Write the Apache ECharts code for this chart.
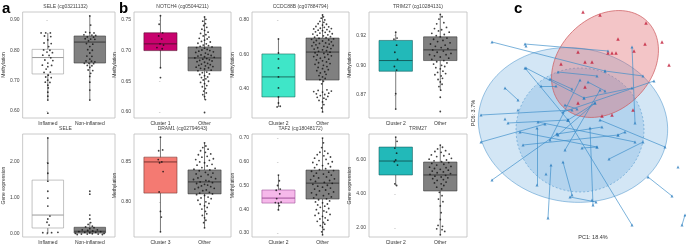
<!DOCTYPE html>
<html>
<head>
<meta charset="utf-8">
<script src="https://cdn.jsdelivr.net/npm/echarts@6/dist/echarts.min.js"></script>
<style>
  html, body { margin: 0; padding: 0; background: #fff; }
  #chart { width: 686px; height: 245px; }
</style>
</head>
<body>
<div id="chart"></div>
<script>
// x categories
const catsSELE = ['Inflamed', 'Non-inflamed'];
const catsC1 = ['Cluster 1', 'Other'];
const catsC2 = ['Cluster 2', 'Other'];
const catsC3 = ['Cluster 3', 'Other'];

// y tick values
const seleMethTicks = [0.6, 0.7, 0.8, 0.9];
const seleExprTicks = [0, 1, 2];
const notchTicks = [0.6, 0.65, 0.7, 0.75];
const ccdcTicks = [0.4, 0.6, 0.8];
const trimMethTicks = [0.875, 0.9, 0.925];
const dramTicks = [0.8, 0.85];
const tafTicks = [0.3, 0.4, 0.5, 0.6, 0.7];
const trimExprTicks = [2, 4, 6];

// box stats: [min, q1, median, q3, max] per group
const seleMethBox = [[0.636, 0.722, 0.776, 0.803, 0.857], [0.636, 0.758, 0.827, 0.847, 0.913]];
const seleExprBox = [[0.03, 0.17, 0.53, 1.50, 2.67], [0.0, 0.03, 0.08, 0.19, 0.33]];
const notchBox = [[0.672, 0.700, 0.711, 0.729, 0.757], [0.620, 0.667, 0.688, 0.706, 0.755]];
const ccdcBox = [[0.296, 0.354, 0.470, 0.603, 0.690], [0.267, 0.452, 0.614, 0.695, 0.830]];
const trimMethBox = [[0.863, 0.895, 0.904, 0.921, 0.928], [0.879, 0.904, 0.913, 0.924, 0.943]];
const dramBox = [[0.7625, 0.811, 0.850, 0.856, 0.881], [0.7675, 0.810, 0.825, 0.840, 0.874]];
const tafBox = [[0.397, 0.426, 0.447, 0.481, 0.544], [0.292, 0.443, 0.510, 0.565, 0.700]];
const trimExprBox = [[4.5, 5.12, 5.94, 6.76, 7.35], [1.6, 4.18, 5.12, 5.88, 6.88]];

// sample points: [jitter, value]
const seleMethInfl = [[-0.16,0.857],[-0.05,0.857],[0.06,0.857],[-0.08,0.847],[0.07,0.845],[0,0.834],[-0.09,0.824],[0.08,0.822],[0.02,0.812],[-0.1,0.801],[0.05,0.8],[-0.02,0.794],[0.11,0.792],[-0.12,0.784],[0.03,0.783],[0.07,0.775],[-0.07,0.768],[0.12,0.766],[0,0.758],[-0.13,0.751],[0.09,0.75],[0,0.746],[-0.04,0.738],[0.06,0.728],[-0.09,0.727],[0.01,0.718],[-0.05,0.712],[0.08,0.71],[0,0.702],[-0.06,0.695],[0.05,0.694],[0,0.685],[0.01,0.676],[0,0.662],[0,0.649],[0,0.636],[0,0.593]];
const seleMethNon = [[0,0.913],[0.02,0.883],[-0.1,0.86],[0,0.858],[0.1,0.857],[-0.14,0.851],[0.05,0.85],[0.14,0.849],[-0.06,0.844],[0.09,0.843],[-0.11,0.838],[0.02,0.837],[0.12,0.836],[-0.03,0.831],[-0.08,0.822],[0.07,0.82],[0,0.812],[-0.05,0.802],[0.06,0.8],[0,0.791],[-0.07,0.781],[0.05,0.78],[0,0.771],[-0.09,0.765],[0.04,0.764],[0.12,0.762],[-0.13,0.757],[-0.02,0.757],[0.09,0.756],[-0.06,0.75],[0.05,0.749],[0,0.744],[-0.04,0.735],[0.07,0.733],[0.02,0.724],[0,0.714],[0,0.695],[0,0.669],[0,0.636]];
const seleExprInfl = [[0,2.67],[0,1.97],[0,1.69],[0,1.47],[0,1.19],[0,1.0],[0,0.78],[0.05,0.5],[0,0.42],[-0.02,0.33],[0.03,0.25],[-0.12,0.04],[-0.01,0.03],[0.09,0.04],[0.24,0.05]];
const seleExprNon = [[0,1.19],[0,1.11],[0,0.53],[0,0.42],[0.02,0.32],[-0.04,0.27],[0.06,0.22],[-0.1,0.2],[0.1,0.18],[0,0.15],[-0.18,0.12],[0.18,0.12],[-0.05,0.1],[0.07,0.09],[-0.26,0.07],[0.26,0.07],[-0.12,0.05],[0.14,0.05],[0,0.04],[-0.34,0.02],[0.34,0.02],[-0.2,0.0],[0.2,0.0],[-0.06,0.0],[0.06,0.01],[-0.3,-0.01],[0.3,-0.01]];
const notchC1 = [[0,0.757],[-0.03,0.743],[0.05,0.729],[-0.04,0.724],[0.03,0.719],[-0.01,0.711],[0.07,0.709],[-0.08,0.705],[0.04,0.703],[0,0.672],[0,0.656]];
const notchOther = [[0,0.755],[0.03,0.751],[-0.04,0.748],[0.02,0.744],[-0.02,0.741],[0.05,0.738],[-0.06,0.735],[0,0.733],[0.08,0.73],[-0.09,0.728],[0.03,0.726],[-0.03,0.724],[0.1,0.722],[-0.12,0.72],[0.06,0.719],[0,0.717],[-0.07,0.715],[0.13,0.714],[-0.15,0.712],[0.04,0.711],[-0.03,0.709],[0.09,0.708],[-0.1,0.707],[0.17,0.706],[-0.18,0.705],[0,0.704],[0.06,0.702],[-0.06,0.701],[0.12,0.7],[-0.13,0.699],[0.2,0.698],[-0.2,0.697],[0.02,0.696],[0.08,0.694],[-0.08,0.693],[0.15,0.692],[-0.15,0.691],[0,0.69],[0.22,0.689],[-0.22,0.688],[0.05,0.687],[-0.04,0.686],[0.11,0.685],[-0.11,0.684],[0.17,0.683],[-0.17,0.682],[0,0.681],[0.07,0.679],[-0.07,0.678],[0.13,0.677],[-0.13,0.676],[0.02,0.675],[0.19,0.674],[-0.19,0.673],[0.09,0.672],[-0.09,0.671],[0,0.67],[0.15,0.668],[-0.15,0.667],[0.05,0.665],[-0.05,0.664],[0.11,0.662],[-0.11,0.661],[0,0.659],[0.07,0.657],[-0.07,0.656],[0.03,0.654],[-0.03,0.652],[0.09,0.65],[-0.09,0.648],[0,0.646],[0.05,0.643],[-0.05,0.641],[0.02,0.638],[-0.02,0.634],[0.04,0.631],[-0.04,0.628],[0,0.625],[0.02,0.62],[0,0.599]];
const ccdcC2 = [[0,0.69],[0,0.609],[0,0.574],[0,0.522],[0,0.47],[0,0.406],[0,0.354],[0,0.319],[0.04,0.3],[-0.03,0.296]];
const ccdcOther = [[0,0.829],[0.02,0.818],[-0.03,0.81],[0.05,0.8],[-0.06,0.792],[0.03,0.786],[-0.1,0.778],[0.09,0.775],[0,0.77],[-0.15,0.762],[0.14,0.76],[0.04,0.757],[-0.05,0.752],[0.2,0.75],[-0.2,0.748],[0.1,0.744],[-0.1,0.741],[0,0.738],[0.16,0.733],[-0.16,0.731],[0.06,0.728],[-0.06,0.724],[0.22,0.72],[-0.22,0.718],[0.12,0.714],[-0.12,0.711],[0.02,0.708],[0.18,0.703],[-0.18,0.7],[0.08,0.697],[-0.08,0.694],[0.25,0.69],[-0.25,0.688],[0.14,0.684],[-0.14,0.681],[0,0.678],[0.2,0.673],[-0.2,0.67],[0.07,0.667],[-0.07,0.664],[0.15,0.66],[-0.15,0.656],[0.24,0.652],[-0.24,0.65],[0.03,0.647],[0.11,0.642],[-0.11,0.639],[0.19,0.634],[-0.19,0.631],[0,0.627],[0.09,0.622],[-0.09,0.618],[0.17,0.613],[-0.17,0.61],[0.03,0.606],[0.12,0.6],[-0.12,0.597],[0.2,0.592],[-0.2,0.588],[0.05,0.584],[-0.05,0.578],[0.14,0.573],[-0.14,0.569],[0,0.563],[0.09,0.557],[-0.09,0.552],[0.17,0.547],[-0.17,0.543],[0.02,0.537],[0.1,0.53],[-0.1,0.525],[0,0.518],[0.13,0.512],[-0.13,0.506],[0.05,0.5],[-0.05,0.493],[0.08,0.485],[-0.08,0.478],[0,0.47],[0.06,0.461],[-0.06,0.454],[0.02,0.445],[-0.02,0.43],[0.1,0.395],[-0.1,0.392],[0.2,0.388],[-0.2,0.385],[0,0.382],[0.14,0.376],[-0.14,0.372],[0.05,0.368],[-0.05,0.362],[0.12,0.357],[-0.12,0.352],[0.03,0.347],[0.08,0.34],[-0.08,0.334],[0,0.325],[0.03,0.31],[-0.02,0.29],[0,0.267]];
const trimMethC2 = [[0,0.928],[0.03,0.923],[-0.04,0.922],[0.02,0.917],[-0.02,0.911],[0.04,0.905],[-0.03,0.899],[0.02,0.896],[0,0.876],[0,0.863]];
const trimMethOther = [[0,0.943],[0.04,0.941],[-0.03,0.939],[0.08,0.936],[-0.08,0.935],[0.14,0.932],[-0.13,0.931],[0.03,0.93],[-0.04,0.929],[0.2,0.928],[-0.19,0.927],[0.09,0.926],[-0.09,0.925],[0,0.924],[0.15,0.923],[-0.15,0.922],[0.06,0.921],[-0.06,0.92],[0.22,0.919],[-0.22,0.918],[0.11,0.917],[-0.11,0.916],[0.02,0.915],[0.17,0.914],[-0.17,0.913],[0.07,0.912],[-0.07,0.911],[0.24,0.91],[-0.24,0.909],[0.13,0.909],[-0.13,0.908],[0,0.907],[0.19,0.906],[-0.19,0.905],[0.08,0.904],[-0.08,0.903],[0.15,0.902],[-0.15,0.901],[0.03,0.9],[0.1,0.899],[-0.1,0.898],[0,0.897],[0.06,0.895],[-0.06,0.894],[0.12,0.893],[-0.12,0.892],[0.02,0.891],[0.05,0.889],[-0.05,0.888],[0,0.886],[0.04,0.884],[-0.03,0.882],[0.01,0.879],[0,0.873],[0,0.861]];
const dramC3 = [[0,0.881],[0.05,0.865],[-0.04,0.864],[-0.05,0.853],[0.03,0.85],[-0.02,0.849],[0.06,0.838],[-0.03,0.8125],[0,0.788],[0.02,0.781],[0,0.7625]];
const dramOther = [[0,0.874],[0.03,0.87],[-0.04,0.868],[0.08,0.866],[-0.09,0.864],[0.02,0.862],[0.14,0.86],[-0.14,0.859],[0.06,0.857],[-0.06,0.856],[0.2,0.854],[-0.2,0.853],[0.11,0.852],[-0.11,0.85],[0,0.849],[0.17,0.847],[-0.17,0.846],[0.06,0.845],[-0.06,0.843],[0.24,0.842],[-0.24,0.841],[0.12,0.84],[-0.12,0.839],[0.02,0.837],[0.19,0.836],[-0.19,0.835],[0.08,0.834],[-0.08,0.832],[0.15,0.831],[-0.15,0.83],[0.25,0.829],[-0.25,0.828],[0.03,0.827],[0.1,0.826],[-0.1,0.825],[0.18,0.824],[-0.18,0.823],[0,0.822],[0.07,0.821],[-0.07,0.82],[0.14,0.819],[-0.14,0.818],[0.22,0.817],[-0.22,0.816],[0.04,0.815],[-0.04,0.814],[0.11,0.812],[-0.11,0.811],[0.18,0.81],[-0.18,0.809],[0,0.808],[0.08,0.806],[-0.08,0.805],[0.15,0.804],[-0.15,0.802],[0.03,0.8],[0.1,0.798],[-0.1,0.797],[0,0.795],[0.06,0.793],[-0.06,0.791],[0.02,0.788],[0.05,0.785],[-0.05,0.783],[0,0.78],[0.03,0.777],[-0.02,0.774],[0,0.7675]];
const tafC2 = [[0,0.544],[0.02,0.52],[-0.02,0.5],[0.04,0.485],[-0.05,0.48],[0.03,0.465],[-0.04,0.445],[0.06,0.43],[-0.07,0.428],[0,0.426],[0.02,0.415],[0,0.397]];
const tafOther = [[0,0.7],[0.02,0.68],[-0.02,0.66],[0.05,0.645],[-0.06,0.64],[0.12,0.635],[-0.12,0.63],[0.03,0.625],[0.18,0.62],[-0.18,0.615],[0.08,0.61],[-0.08,0.605],[0.22,0.6],[-0.22,0.597],[0.13,0.592],[-0.13,0.588],[0,0.584],[0.18,0.579],[-0.18,0.575],[0.07,0.571],[-0.07,0.567],[0.25,0.563],[-0.25,0.56],[0.14,0.556],[-0.14,0.552],[0.02,0.548],[0.2,0.544],[-0.2,0.54],[0.09,0.536],[-0.09,0.532],[0.27,0.528],[-0.27,0.525],[0.16,0.521],[-0.16,0.517],[0.04,0.513],[0.22,0.509],[-0.22,0.505],[0.11,0.501],[-0.11,0.497],[0,0.493],[0.18,0.489],[-0.18,0.485],[0.07,0.481],[-0.07,0.477],[0.25,0.473],[-0.25,0.469],[0.14,0.465],[-0.14,0.461],[0.02,0.457],[0.2,0.452],[-0.2,0.448],[0.09,0.444],[-0.09,0.44],[0.16,0.435],[-0.16,0.431],[0,0.427],[0.11,0.422],[-0.11,0.418],[0.05,0.413],[-0.05,0.408],[0.14,0.403],[-0.14,0.398],[0.03,0.393],[0.09,0.388],[-0.09,0.383],[0.17,0.378],[-0.17,0.374],[0,0.37],[0.06,0.364],[-0.06,0.359],[0.12,0.354],[-0.12,0.349],[0.02,0.344],[0.05,0.337],[-0.05,0.331],[0,0.325],[0.03,0.315],[-0.02,0.305],[0,0.292]];
const trimExprC2 = [[0,7.35],[0.03,7.1],[-0.02,6.7],[0.02,6.4],[0,6.0],[-0.03,5.9],[0.04,5.7],[-0.02,4.6],[0.02,4.5]];
const trimExprOther = [[0,6.88],[0.05,6.75],[-0.06,6.65],[0.12,6.55],[-0.12,6.5],[0.02,6.45],[0.2,6.35],[-0.2,6.3],[0.08,6.25],[-0.08,6.2],[0.25,6.1],[-0.25,6.05],[0.14,6.0],[-0.14,5.95],[0.03,5.9],[0.19,5.85],[-0.19,5.8],[0.08,5.75],[-0.08,5.7],[0.24,5.62],[-0.24,5.58],[0.13,5.55],[-0.13,5.5],[0,5.45],[0.18,5.4],[-0.18,5.35],[0.07,5.3],[-0.07,5.25],[0.23,5.2],[-0.23,5.15],[0.12,5.1],[-0.12,5.05],[0.02,5.0],[0.17,4.95],[-0.17,4.9],[0.07,4.85],[-0.07,4.8],[0.13,4.7],[-0.13,4.65],[0.02,4.6],[0.08,4.5],[-0.08,4.4],[0.03,4.3],[-0.02,4.1],[0.04,3.9],[-0.04,3.7],[0.06,3.55],[0,3.3],[0.02,2.9],[0,2.5],[-0.05,2.15],[0.05,2.1],[-0.08,1.95],[0.04,1.9],[0.1,1.8],[0,1.6]];

// PCA (panel c): PC1 / PC6 scores
const pcaRed = [[0.2,10.7],[1.9,10.4],[6.5,9.6],[3.7,8.0],[6.4,7.5],[8.1,7.7],[5.3,6.8],[-0.3,6.7],[0.4,5.7],[1.1,5.7],[2.7,6.6],[3.1,6.6],[3.5,6.6],[8.8,5.4],[-2.0,5.5],[0.4,3.2],[-0.3,1.6],[5.2,0.9],[3.1,0.4],[2.1,0.3]];
const pcaPairs = [[-8.9,7.7,2.4,4.8],[-5.6,7.5,2.7,6.8],[-7.6,3.1,-6.3,1.9],[-10.0,0.4,-0.9,0.9],[-10.0,-2.3,-3.6,-0.5],[-8.9,-6.1,-2.4,-1.5],[5.1,7.2,5.4,-0.4],[2.4,4.8,6.2,4.3],[-2.3,4.7,1.6,4.3],[-3.1,4.0,-0.9,3.0],[-4.0,3.3,-2.5,3.3],[0.7,3.7,2.4,2.8],[0.3,2.1,5.1,3.1],[7.3,3.8,-1.8,0.7],[-1.6,1.4,-0.4,1.0],[1.4,1.6,-1.3,-0.1],[2.8,-4.0,6.2,-2.3],[6.7,-5.8,9.1,-7.7],[-1.8,-4.3,-0.9,-7.6],[-3.3,-9.9,-3.0,-4.6],[-4.4,-6.6,-4.4,-0.9],[-1.1,-7.8,1.5,-8.3],[0.9,-0.9,1.2,-8.6],[-1.3,-0.1,5.1,-10.6],[10.1,-10.6,10.4,-9.6],[8.4,-2.8,1.9,-0.1],[-2.4,-1.5,2.1,-0.8],[0.1,-2.9,1.6,-2.8],[3.7,-1.6,4.4,-1.3],[-5.6,5.1,-1.3,-0.1],[-6.1,-1.3,1.6,-2.8],[-4.3,-0.3,5.4,-2.3],[-7.3,-0.4,-1.3,-0.1],[-5.8,-2.6,3.7,-1.6],[-5.5,5.1,0.3,2.1],[-2.3,-1.6,1.4,1.6],[-3.1,-2.1,-0.1,3.9],[1.9,2.9,-1.6,-3.1]];
const pcaBlueSingle = [[9.7,-4.8],[-7.6,0.0],[-6.3,0.9],[-3.5,-5.5],[1.1,-8.1],[-5.5,7.3]];
// confidence ellipses: [cx, cy, rx, ry, angle deg]
const pcaEllipses = [[-0.8,-0.6,9.5,7.7,-8],[-0.1,-1.1,6.4,6.2,0],[2.4,5.5,6.0,4.6,45]];
const ellipseStyles = [
  { fill: 'rgba(110,172,222,0.30)', stroke: 'rgba(80,150,205,0.7)', dash: null },
  { fill: 'rgba(110,172,222,0.30)', stroke: 'rgba(80,150,205,0.7)', dash: [2, 2] },
  { fill: 'rgba(222,95,100,0.36)', stroke: 'rgba(205,90,95,0.9)', dash: null }
];

const fix2 = v => v.toFixed(2);
const trunc2 = v => (Math.floor(v * 100 + 1e-6) / 100).toFixed(2);

const panels = [
  { left: 16, top: 12, w: 99, h: 106, title: 'SELE (cg03211132)', cats: catsSELE, yName: 'Methylation', gap: 10, min: 0.577, max: 0.926, ticks: seleMethTicks, fmt: fix2, box: seleMethBox, pts: [seleMethInfl, seleMethNon], fills: ['#ffffff', '#808080'], strokes: ['#9a9a9a', '#3a3a3a'] },
  { left: 16, top: 134, w: 99, h: 103, title: 'SELE', cats: catsSELE, yName: 'Gene expression', gap: 11, min: -0.08, max: 2.78, ticks: seleExprTicks, fmt: fix2, box: seleExprBox, pts: [seleExprInfl, seleExprNon], fills: ['#ffffff', '#808080'], strokes: ['#9a9a9a', '#3a3a3a'] },
  { left: 134, top: 12, w: 97, h: 106, title: 'NOTCH4 (cg05044211)', cats: catsC1, yName: 'Methylation', gap: 11, min: 0.590, max: 0.763, ticks: notchTicks, fmt: fix2, box: notchBox, pts: [notchC1, notchOther], fills: ['#c8026e', '#808080'], strokes: ['#5a1030', '#3a3a3a'] },
  { left: 252, top: 12, w: 97, h: 106, title: 'CCDC88B (cg07884794)', cats: catsC2, yName: 'Methylation', gap: 14, min: 0.232, max: 0.846, ticks: ccdcTicks, fmt: fix2, box: ccdcBox, pts: [ccdcC2, ccdcOther], fills: ['#3fe6c8', '#808080'], strokes: ['#1e6e60', '#3a3a3a'] },
  { left: 369, top: 12, w: 98, h: 106, title: 'TRIM27 (cg10284131)', cats: catsC2, yName: 'Methylation', gap: 11, min: 0.8555, max: 0.945, ticks: trimMethTicks, fmt: trunc2, box: trimMethBox, pts: [trimMethC2, trimMethOther], fills: ['#22b9b9', '#808080'], strokes: ['#135f5f', '#3a3a3a'] },
  { left: 134, top: 134, w: 97, h: 103, title: 'DRAM1 (cg02794643)', cats: catsC3, yName: 'Methylation', gap: 13, min: 0.756, max: 0.885, ticks: dramTicks, fmt: fix2, box: dramBox, pts: [dramC3, dramOther], fills: ['#f47a72', '#808080'], strokes: ['#7a3530', '#3a3a3a'] },
  { left: 252, top: 134, w: 97, h: 103, title: 'TAF2 (cg18048172)', cats: catsC2, yName: 'Methylation', gap: 14, min: 0.283, max: 0.717, ticks: tafTicks, fmt: fix2, box: tafBox, pts: [tafC2, tafOther], fills: ['#f6b8ea', '#808080'], strokes: ['#a0509a', '#3a3a3a'] },
  { left: 369, top: 134, w: 98, h: 103, title: 'TRIM27', cats: catsC2, yName: 'Gene expression', gap: 11, min: 1.47, max: 7.53, ticks: trimExprTicks, fmt: fix2, box: trimExprBox, pts: [trimExprC2, trimExprOther], fills: ['#22b9b9', '#808080'], strokes: ['#135f5f', '#3a3a3a'] }
];

const FONT = 'Liberation Sans, Arial, sans-serif';
const grid = [], xAxis = [], yAxis = [], series = [], graphic = [];

// box + whisker drawn through the axes
function boxRenderer(fills, strokes) {
  return function (params, api) {
    const g = api.value(0);
    const i = params.dataIndex;
    const lo = api.coord([g, api.value(1)]);
    const hi = api.coord([g, api.value(5)]);
    const bl = api.coord([g - 0.375, api.value(2)]);
    const tr = api.coord([g + 0.375, api.value(4)]);
    const ml = api.coord([g - 0.375, api.value(3)]);
    const mr = api.coord([g + 0.375, api.value(3)]);
    return {
      type: 'group',
      children: [
        { type: 'line', shape: { x1: lo[0], y1: lo[1], x2: hi[0], y2: hi[1] }, style: { stroke: '#222', lineWidth: 0.6 } },
        { type: 'rect', shape: { x: bl[0], y: tr[1], width: tr[0] - bl[0], height: bl[1] - tr[1] }, style: { fill: fills[i], stroke: strokes[i], lineWidth: 0.6 } },
        { type: 'line', shape: { x1: ml[0], y1: ml[1], x2: mr[0], y2: mr[1] }, style: { stroke: strokes[i], lineWidth: 1 } }
      ]
    };
  };
}

panels.forEach((p, i) => {
  grid.push({ left: p.left, top: p.top, width: p.w, height: p.h, show: true, borderColor: '#bcbcbc', borderWidth: 0.8, backgroundColor: '#fff' });
  xAxis.push({
    gridIndex: i, type: 'value', min: -0.6, max: 1.6,
    axisLine: { show: false }, splitLine: { show: false },
    axisTick: { show: false },
    axisLabel: { customValues: [0, 1], formatter: v => p.cats[Math.round(v)], fontSize: 5, color: '#333', margin: 3, fontFamily: FONT }
  });
  yAxis.push({
    gridIndex: i, type: 'value', min: p.min, max: p.max,
    name: p.yName, nameLocation: 'middle', nameGap: p.gap,
    nameTextStyle: { fontSize: 5, color: '#333', fontFamily: FONT },
    axisLine: { show: false }, splitLine: { show: false },
    axisTick: { show: true, customValues: p.ticks, length: 1.5, lineStyle: { color: '#aaa', width: 0.5 } },
    axisLabel: { customValues: p.ticks, formatter: p.fmt, fontSize: 5, color: '#444', margin: 3, fontFamily: FONT }
  });
  series.push({
    type: 'custom', xAxisIndex: i, yAxisIndex: i, silent: true, z: 2,
    data: p.box.map((b, g) => [g].concat(b)),
    encode: { x: 0, y: [1, 2, 3, 4, 5] },
    renderItem: boxRenderer(p.fills, p.strokes)
  });
  series.push({
    type: 'scatter', xAxisIndex: i, yAxisIndex: i, silent: true, z: 3,
    symbolSize: 1.8, itemStyle: { color: '#111' },
    data: p.pts[0].map(d => [d[0], d[1]]).concat(p.pts[1].map(d => [1 + d[0], d[1]]))
  });
  graphic.push({ type: 'text', x: p.left + p.w / 2, y: p.top - 5, style: { text: p.title, font: '5px ' + FONT, fill: '#444', align: 'center', verticalAlign: 'middle' } });
});

// panel c
const ci = panels.length;
grid.push({ left: 476, top: 4, width: 210, height: 230, show: false });
xAxis.push({ gridIndex: ci, type: 'value', min: -10.5, max: 10.5, show: false });
yAxis.push({ gridIndex: ci, type: 'value', min: -11.5, max: 11.5, show: false });
series.push({
  type: 'custom', xAxisIndex: ci, yAxisIndex: ci, silent: true, z: 1, clip: false,
  data: pcaEllipses,
  encode: { x: 0, y: 1 },
  renderItem: function (params, api) {
    const cx = api.value(0), cy = api.value(1), rx = api.value(2), ry = api.value(3);
    const a = api.value(4) * Math.PI / 180;
    const pts = [];
    for (let k = 0; k < 96; k++) {
      const t = k / 96 * Math.PI * 2;
      pts.push(api.coord([
        cx + rx * Math.cos(t) * Math.cos(a) - ry * Math.sin(t) * Math.sin(a),
        cy + rx * Math.cos(t) * Math.sin(a) + ry * Math.sin(t) * Math.cos(a)
      ]));
    }
    const s = ellipseStyles[params.dataIndex];
    return { type: 'polygon', shape: { points: pts }, style: { fill: s.fill, stroke: s.stroke, lineWidth: 0.8, lineDash: s.dash } };
  }
});
series.push({
  type: 'lines', coordinateSystem: 'cartesian2d', xAxisIndex: ci, yAxisIndex: ci, silent: true, z: 2,
  data: pcaPairs.map(s => ({ coords: [[s[0], s[1]], [s[2], s[3]]] })),
  lineStyle: { color: '#3a8cc8', width: 0.7, opacity: 0.95 }
});
let bluePts = [];
pcaPairs.forEach(s => { bluePts.push([s[0], s[1]]); bluePts.push([s[2], s[3]]); });
bluePts = bluePts.concat(pcaBlueSingle);
series.push({
  type: 'scatter', xAxisIndex: ci, yAxisIndex: ci, silent: true, z: 3,
  symbol: 'triangle', symbolSize: 3, itemStyle: { color: '#2f7fbf' }, data: bluePts
});
series.push({
  type: 'scatter', xAxisIndex: ci, yAxisIndex: ci, silent: true, z: 4,
  symbol: 'triangle', symbolSize: 3.5, itemStyle: { color: '#c21e3a' }, data: pcaRed
});

graphic.push({ type: 'text', x: 593, y: 237, style: { text: 'PC1: 18.4%', font: '5.5px ' + FONT, fill: '#333', align: 'center', verticalAlign: 'middle' } });
graphic.push({ type: 'text', x: 473, y: 113, rotation: Math.PI / 2, style: { text: 'PC6: 3.7%', font: '5.5px ' + FONT, fill: '#333', align: 'center', verticalAlign: 'middle' } });

// panel letters
[['a', 2, 1], ['b', 119, 1], ['c', 514, 1]].forEach(l => {
  graphic.push({ type: 'text', x: l[1], y: l[2], style: { text: l[0], font: 'bold 15px ' + FONT, fill: '#000', align: 'left', verticalAlign: 'top' } });
});

const chart = echarts.init(document.getElementById('chart'), null, { renderer: 'canvas' });
chart.setOption({
  animation: false,
  backgroundColor: '#fff',
  grid: grid,
  xAxis: xAxis,
  yAxis: yAxis,
  series: series,
  graphic: graphic
});
</script>
</body>
</html>
